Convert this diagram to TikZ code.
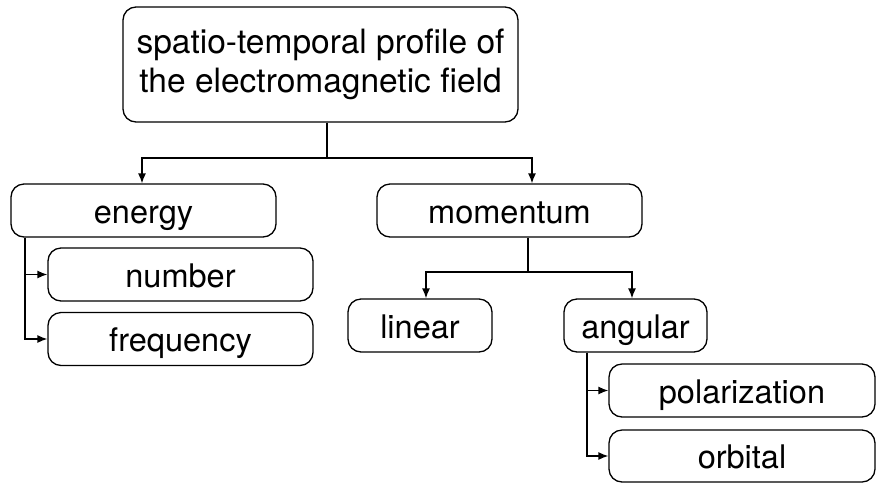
\documentclass[tikz,border=0pt]{standalone}
\usepackage{fontspec}
\setmainfont{TeX Gyre Heros}
\usetikzlibrary{arrows.meta}
\begin{document}
\begin{tikzpicture}[x=1pt,y=-1pt,
  box/.style={draw, line width=1.3pt, rounded corners=13pt, inner sep=0pt,
    font=\fontsize{32.5}{38}\selectfont, align=center},
  leaf/.style={box, minimum height=53pt, text height=30pt, text depth=5pt},
  link/.style={line width=1.3pt},
  arr/.style={link, -{Latex[length=10pt,width=8pt]}}]
  \useasboundingbox (0,0) rectangle (877,483);

  % boxes
  \node[box, minimum width=395pt, minimum height=115pt,
        font=\fontsize{33.5}{38.5}\selectfont] (top) at (320.5,64.5)
    {spatio-temporal profile of\\the electromagnetic field};
  \node[leaf, minimum width=265pt] (energy) at (143.5,210.5) {energy};
  \node[leaf, minimum width=265pt] (momentum) at (509.5,210.5) {momentum};
  \node[leaf, minimum width=265pt] (number) at (180.5,274.5) {number};
  \node[leaf, minimum width=265pt] (frequency) at (180.5,339) {frequency};
  \node[leaf, minimum width=144pt] (linear) at (420,325.5) {linear};
  \node[leaf, minimum width=143pt] (angular) at (635.5,325.5) {angular};
  \node[leaf, minimum width=266pt] (polarization) at (742,390.5) {polarization};
  \node[leaf, minimum width=266pt, minimum height=52pt] (orbital) at (742,456) {orbital};

  % junction points of the tree
  \coordinate (j1) at (327,158);
  \coordinate (j2) at (528,272);

  % field -> energy / momentum
  \draw[link] ([xshift=6.5pt]top.south) -- (j1);
  \draw[arr] (j1) -| ([xshift=-1.5pt]energy.north);
  \draw[arr] (j1) -| ([xshift=22.5pt]momentum.north);

  % energy -> number / frequency
  \draw[arr] ([xshift=-118.5pt]energy.south) |- (number.west);
  \draw[arr] ([xshift=-118.5pt]energy.south) |- (frequency.west);

  % momentum -> linear / angular
  \draw[link] ([xshift=18.5pt]momentum.south) -- (j2);
  \draw[arr] (j2) -| ([xshift=6pt]linear.north);
  \draw[arr] (j2) -| ([xshift=-3.5pt]angular.north);

  % angular -> polarization / orbital
  \draw[arr] ([xshift=-48.5pt]angular.south) |- (polarization.west);
  \draw[arr] ([xshift=-48.5pt]angular.south) |- (orbital.west);
\end{tikzpicture}
\end{document}
